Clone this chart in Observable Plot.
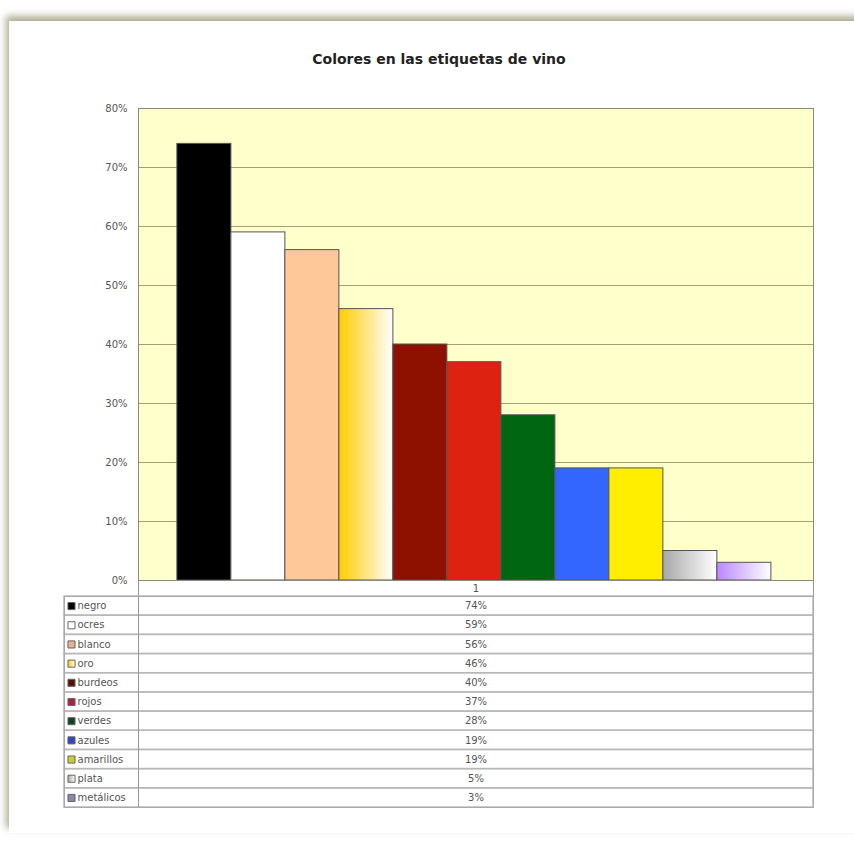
<!DOCTYPE html>
<html><head><meta charset="utf-8">
<script src="https://cdn.jsdelivr.net/npm/d3@7"></script>
<script src="https://cdn.jsdelivr.net/npm/@observablehq/plot@0.6"></script>
<style>
body{margin:0;background:#fff;width:854px;height:841px;overflow:hidden;position:relative;font-family:"DejaVu Sans",sans-serif;}
#card{position:absolute;left:9px;top:21px;width:900px;height:812px;background:#fff;box-shadow:-3px -5px 7px rgba(130,130,90,0.65);}
#title{position:absolute;left:0;width:878px;top:51px;text-align:center;font-weight:bold;font-size:14px;color:#222;font-family:"DejaVu Sans",sans-serif;}
#chart{position:absolute;left:0;top:0;}
#table{position:absolute;left:0;top:580px;}
svg{overflow:visible;display:block;}
</style></head><body>
<div id="card"></div>
<div id="table"></div>
<div id="chart"></div>
<div id="title">Colores en las etiquetas de vino</div>
<script>
// ---- data ----
const categories = ["negro","ocres","blanco","oro","burdeos","rojos","verdes","azules","amarillos","plata","metálicos"];
const values = [74,59,56,46,40,37,28,19,19,5,3];
const valueLabels = ["74%","59%","56%","46%","40%","37%","28%","19%","19%","5%","3%"];
const barColors = ["#000000","#ffffff","#ffc899","url(#g-oro)","#8e1100","#dd2211","#006611","#3366ff","#ffee00","url(#g-plata)","url(#g-metal)"];
const swatchColors = ["#000000","#ffffff","#e8b090","url(#g-oro)","#5a1000","#b02040","#114422","#3344cc","#cccc33","url(#g-plata)","#8888aa"];
const yTicks = [0,10,20,30,40,50,60,70,80];
const gridTicks = [10,20,30,40,50,60,70];
const seriesName = "1";
const gradients = [
  {id:"g-oro", from:"#ffcc00", to:"#ffffff"},
  {id:"g-plata", from:"#a8a8a8", to:"#ffffff"},
  {id:"g-metal", from:"#bb88ff", to:"#ffffff"}
];

const LABEL_COL = 74/749; // label column share of table width
const VALUE_CENTER = (LABEL_COL + 1) / 2;
const HEADER_H = 16;

function defsMark() {
  const defs = d3.create("svg:defs");
  for (const g of gradients) {
    const lg = defs.append("linearGradient").attr("id", g.id)
      .attr("x1","0").attr("x2","1").attr("y1","0").attr("y2","0");
    lg.append("stop").attr("offset","0%").attr("stop-color", g.from);
    lg.append("stop").attr("offset","100%").attr("stop-color", g.to);
  }
  return defs.node();
}

const bars = categories.map((c, i) => ({name: c, value: values[i], fill: barColors[i]}));

const styleOpts = {fontFamily: "DejaVu Sans", fontSize: "10px", background: "transparent", color: "#555"};

const chart = Plot.plot({
  width: 854, height: 590,
  marginLeft: 138, marginRight: 41, marginTop: 108, marginBottom: 10,
  style: styleOpts,
  x: {domain: categories, axis: null, paddingInner: 0, paddingOuter: 0.75, align: 0.48, round: false},
  y: {domain: [0, 80], ticks: yTicks, tickFormat: d => d + "%", tickSize: 0, tickPadding: 11, label: null},
  color: {type: "identity"},
  marks: [
    defsMark,
    Plot.frame({fill: "#ffffcc"}),
    Plot.ruleY(gridTicks, {stroke: "#a3a07a", strokeWidth: 1.2}),
    Plot.barY(bars, {x: "name", y: "value", fill: "fill", stroke: "#555", strokeWidth: 1}),
    Plot.frame({stroke: "#8a8a80"})
  ]
});
document.getElementById("chart").appendChild(chart);

const tableRows = categories.map((c, i) => ({key: c, label: c, value: valueLabels[i], swatch: swatchColors[i]}));

const table = Plot.plot({
  width: 854, height: 228,
  marginLeft: 64, marginRight: 41, marginTop: HEADER_H, marginBottom: 1,
  style: styleOpts,
  x: {domain: [0, 1], axis: null},
  y: {domain: categories, axis: null, padding: 0, round: false},
  color: {type: "identity"},
  marks: [
    Plot.cell(tableRows, {y: "key", fill: "none", stroke: "#b8b8b8", strokeWidth: 1.5}),
    Plot.ruleX([LABEL_COL, 1], {stroke: "#999", insetTop: -HEADER_H}),
    Plot.frame({stroke: "#aaa"}),
    Plot.text([seriesName], {x: () => VALUE_CENTER, frameAnchor: "top", dy: -HEADER_H / 2, text: d => d, fill: "#555", lineAnchor: "middle"}),
    Plot.dot(tableRows, {y: "key", frameAnchor: "left", dx: 7, symbol: "square", r: 4, fill: "swatch", stroke: "#666", strokeWidth: 1}),
    Plot.text(tableRows, {y: "key", frameAnchor: "left", dx: 13, text: "label", textAnchor: "start", fill: "#555"}),
    Plot.text(tableRows, {x: () => VALUE_CENTER, y: "key", text: "value", fill: "#555"})
  ]
});
document.getElementById("table").appendChild(table);
</script>
</body></html>
